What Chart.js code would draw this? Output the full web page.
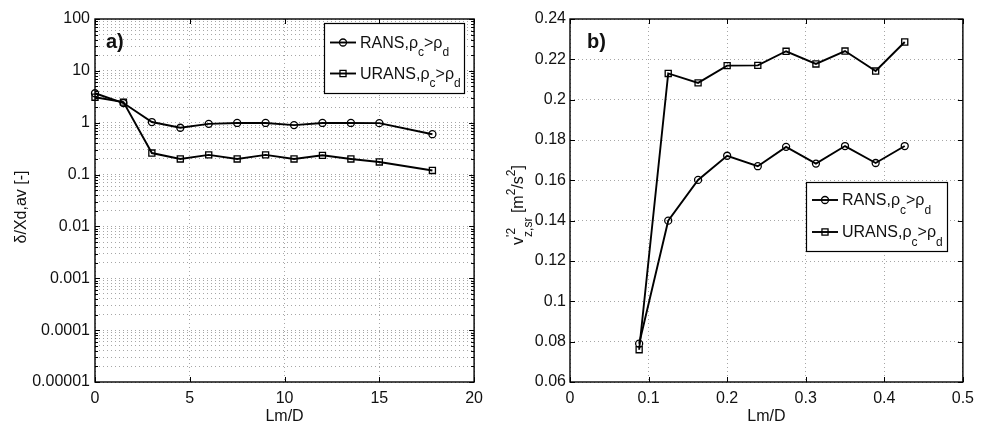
<!DOCTYPE html>
<html lang="en">
  <head>
    <meta charset="UTF-8" />
    <title>RANS / URANS - Lm/D</title>
    <style>
      body {
        margin: 0;
        background: #fff;
      }
      #wrap {
        display: flex;
        width: 981px;
        height: 423px;
      }
    </style>
  </head>
  <body>
    <div id="wrap">
      <canvas id="chartA" width="490" height="423"></canvas>
      <canvas id="chartB" width="491" height="423"></canvas>
    </div>

    <script src="https://cdn.jsdelivr.net/npm/chart.js"></script>

    <script>
      // panel a) - log scale
      const lmA = [0, 1.5, 3, 4.5, 6, 7.5, 9, 10.5, 12, 13.5, 15, 17.8];
      const ransA = [3.7, 2.4, 1.03, 0.8, 0.95, 0.99, 0.99, 0.9, 0.99, 0.99, 0.98, 0.6];
      const uransA = [3.1, 2.5, 0.26, 0.2, 0.24, 0.2, 0.24, 0.2, 0.235, 0.2, 0.175, 0.12];
      const xTicksA = [0, 5, 10, 15, 20];
      const yDecadesA = [0.00001, 0.0001, 0.001, 0.01, 0.1, 1, 10, 100];
      const yLabelsA = ["0.00001", "0.0001", "0.001", "0.01", "0.1", "1", "10", "100"];

      // panel b)
      const lmB = [0.088, 0.125, 0.163, 0.2, 0.239, 0.275, 0.313, 0.35, 0.389, 0.426];
      const ransB = [0.079, 0.14, 0.1602, 0.1722, 0.167, 0.1766, 0.1683, 0.177, 0.1686, 0.177];
      const uransB = [0.076, 0.213, 0.2083, 0.2169, 0.217, 0.224, 0.2177, 0.2241, 0.2142, 0.2286];
      const xTicksB = [0, 0.1, 0.2, 0.3, 0.4, 0.5];
      const yTicksB = [0.06, 0.08, 0.1, 0.12, 0.14, 0.16, 0.18, 0.2, 0.22, 0.24];

      const seriesNames = ["RANS,ρc>ρd", "URANS,ρc>ρd"];
      // same names, with sub-indices for drawing
      const seriesRich = [
        [{ t: "RANS,ρ" }, { sub: "c" }, { t: ">ρ" }, { sub: "d" }],
        [{ t: "URANS,ρ" }, { sub: "c" }, { t: ">ρ" }, { sub: "d" }],
      ];

      const FONT = '"Liberation Sans", Arial, Helvetica, sans-serif';
      const GRID = "#a6a6a6";
      const INK = "#111";

      function setFont(ctx, size, bold) {
        ctx.font = (bold ? "bold " : "") + size + "px " + FONT;
      }

      function richWidth(ctx, segs, size) {
        let w = 0;
        segs.forEach((s) => {
          if (s.t !== undefined) {
            setFont(ctx, size);
            w += ctx.measureText(s.t).width;
          } else {
            setFont(ctx, Math.round(size * 0.72));
            w += Math.max(
              s.sup ? ctx.measureText(s.sup).width : 0,
              s.sub ? ctx.measureText(s.sub).width : 0
            );
          }
        });
        return w;
      }

      function drawRich(ctx, segs, x, y, size) {
        segs.forEach((s) => {
          if (s.t !== undefined) {
            setFont(ctx, size);
            ctx.fillText(s.t, x, y);
            x += ctx.measureText(s.t).width;
          } else {
            setFont(ctx, Math.round(size * 0.72));
            let w = 0;
            if (s.sup) {
              ctx.fillText(s.sup, x, y - size * 0.5);
              w = ctx.measureText(s.sup).width;
            }
            if (s.sub) {
              ctx.fillText(s.sub, x, y + size * 0.55);
              w = Math.max(w, ctx.measureText(s.sub).width);
            }
            x += w;
          }
        });
      }

      function drawMarker(ctx, style, r, x, y) {
        ctx.beginPath();
        if (style === "rect") {
          const h = r / Math.SQRT2;
          ctx.rect(x - h, y - h, 2 * h, 2 * h);
        } else {
          ctx.arc(x, y, r, 0, Math.PI * 2);
        }
        ctx.stroke();
      }

      // box, inward ticks, legend, titles - matlab look
      const matlabAxes = {
        id: "matlabAxes",
        afterDatasetsDraw(chart, args, o) {
          const { ctx, chartArea: a, scales } = chart;
          ctx.save();
          ctx.strokeStyle = "#000";
          ctx.lineWidth = 1;
          ctx.beginPath();
          scales.x.ticks.forEach((t) => {
            const px = Math.round(scales.x.getPixelForValue(t.value)) + 0.5;
            ctx.moveTo(px, a.bottom);
            ctx.lineTo(px, a.bottom - 5);
            ctx.moveTo(px, a.top);
            ctx.lineTo(px, a.top + 5);
          });
          scales.y.ticks.forEach((t) => {
            const py = Math.round(scales.y.getPixelForValue(t.value)) + 0.5;
            const len = t.label === "" ? 3 : 5;
            ctx.moveTo(a.left, py);
            ctx.lineTo(a.left + len, py);
            ctx.moveTo(a.right, py);
            ctx.lineTo(a.right - len, py);
          });
          ctx.stroke();
          ctx.lineWidth = 1.4;
          ctx.strokeRect(a.left, a.top, a.width, a.height);
          ctx.restore();
        },
        afterDraw(chart, args, o) {
          const { ctx, chartArea: a } = chart;
          ctx.save();
          ctx.fillStyle = INK;
          ctx.textBaseline = "alphabetic";

          // panel label
          setFont(ctx, 20, true);
          ctx.fillText(o.panel, o.panelX, 48);

          // x title
          setFont(ctx, 16);
          ctx.textAlign = "center";
          ctx.fillText("Lm/D", (a.left + a.right) / 2, 421);
          ctx.textAlign = "left";

          // y title (rotated)
          const w = richWidth(ctx, o.yTitle, 16);
          ctx.save();
          ctx.translate(o.yTitleX, o.yTitleY);
          ctx.rotate(-Math.PI / 2);
          drawRich(ctx, o.yTitle, -w / 2, 0, 16);
          ctx.restore();

          // legend
          const L = o.legend;
          ctx.fillStyle = "#fff";
          ctx.fillRect(L.left, L.top, L.width, L.height);
          ctx.strokeStyle = "#000";
          ctx.lineWidth = 1.2;
          ctx.strokeRect(L.left + 0.5, L.top + 0.5, L.width, L.height);
          chart.data.datasets.forEach((ds, i) => {
            const y = L.top + L.rows[i];
            ctx.strokeStyle = "#000";
            ctx.lineWidth = ds.borderWidth;
            ctx.beginPath();
            ctx.moveTo(L.left + 6, y);
            ctx.lineTo(L.left + 32, y);
            ctx.stroke();
            ctx.lineWidth = ds.pointBorderWidth;
            drawMarker(ctx, ds.pointStyle, ds.pointRadius, L.left + 19, y);
            ctx.fillStyle = INK;
            drawRich(ctx, seriesRich[i], L.left + 36, y + 5, 16);
          });
          ctx.restore();
        },
      };

      function pts(xs, ys) {
        return xs.map((x, i) => ({ x: x, y: ys[i] }));
      }

      function series(label, data, style, r) {
        return {
          label: label,
          data: data,
          borderColor: "#000",
          borderWidth: 1.9,
          pointStyle: style,
          pointRadius: r,
          pointBorderWidth: 1.3,
          pointBorderColor: "#000",
          pointBackgroundColor: "rgba(0,0,0,0)",
          tension: 0,
          clip: false,
        };
      }

      function axis(extra) {
        return Object.assign(
          {
            grid: { color: GRID, lineWidth: 1, drawTicks: false },
            border: { display: false, dash: [1, 3] },
          },
          extra
        );
      }

      const tickFont = { family: FONT, size: 16 };

      function decadeLabel(v) {
        const k = yDecadesA.findIndex((d) => Math.abs(d - v) / d < 1e-6);
        return k < 0 ? "" : yLabelsA[k];
      }

      // all 1..9 x 10^n lines for the log grid
      const logGrid = [];
      yDecadesA.forEach((d, k) => {
        if (k === yDecadesA.length - 1) {
          logGrid.push(d);
          return;
        }
        for (let m = 1; m < 10; m++) logGrid.push(d * m);
      });

      new Chart(document.getElementById("chartA"), {
        type: "line",
        data: {
          datasets: [
            series(seriesNames[0], pts(lmA, ransA), "circle", 3.5),
            series(seriesNames[1], pts(lmA, uransA), "rect", 4.3),
          ],
        },
        options: {
          responsive: false,
          animation: false,
          layout: { padding: { top: 19, right: 13, left: 0, bottom: 0 } },
          plugins: {
            legend: { display: false },
            tooltip: { enabled: false },
            matlabAxes: {
              panel: "a)",
              panelX: 106,
              yTitle: [{ t: "δ/Xd,av [-]" }],
              yTitleX: 26,
              yTitleY: 207,
              legend: { left: 324, top: 23, width: 140, height: 70, rows: [19.5, 50.5] },
            },
          },
          scales: {
            x: axis({
              type: "linear",
              min: 0,
              max: 20,
              afterBuildTicks: (s) => {
                s.ticks = xTicksA.map((v) => ({ value: v }));
              },
              ticks: { font: tickFont, color: INK, padding: 7, maxRotation: 0, autoSkip: false },
              afterFit: (s) => {
                s.height = 41;
              },
            }),
            y: axis({
              type: "logarithmic",
              min: 0.00001,
              max: 100,
              afterBuildTicks: (s) => {
                s.ticks = logGrid.map((v) => ({ value: v }));
              },
              ticks: {
                font: tickFont,
                color: INK,
                padding: 5,
                autoSkip: false,
                callback: (v) => decadeLabel(v),
              },
              afterFit: (s) => {
                s.width = 95;
              },
            }),
          },
        },
        plugins: [matlabAxes],
      });

      new Chart(document.getElementById("chartB"), {
        type: "line",
        data: {
          datasets: [
            series(seriesNames[0], pts(lmB, ransB), "circle", 3.5),
            series(seriesNames[1], pts(lmB, uransB), "rect", 4.3),
          ],
        },
        options: {
          responsive: false,
          animation: false,
          layout: { padding: { top: 19, right: 12, left: 0, bottom: 0 } },
          plugins: {
            legend: { display: false },
            tooltip: { enabled: false },
            matlabAxes: {
              panel: "b)",
              panelX: 97,
              yTitle: [
                { t: "v" },
                { sup: "'2", sub: "z,sr" },
                { t: " [m" },
                { sup: "2" },
                { t: "/s" },
                { sup: "2" },
                { t: "]" },
              ],
              yTitleX: 33,
              yTitleY: 205,
              legend: { left: 316, top: 182, width: 141, height: 69, rows: [18, 50] },
            },
          },
          scales: {
            x: axis({
              type: "linear",
              min: 0,
              max: 0.5,
              afterBuildTicks: (s) => {
                s.ticks = xTicksB.map((v) => ({ value: v }));
              },
              ticks: {
                font: tickFont,
                color: INK,
                padding: 7,
                maxRotation: 0,
                autoSkip: false,
                callback: (v) => String(v),
              },
              afterFit: (s) => {
                s.height = 41;
              },
            }),
            y: axis({
              type: "linear",
              min: 0.06,
              max: 0.24,
              afterBuildTicks: (s) => {
                s.ticks = yTicksB.map((v) => ({ value: v }));
              },
              ticks: {
                font: tickFont,
                color: INK,
                padding: 4,
                autoSkip: false,
                callback: (v) => String(v),
              },
              afterFit: (s) => {
                s.width = 80;
              },
            }),
          },
        },
        plugins: [matlabAxes],
      });
    </script>
  </body>
</html>
